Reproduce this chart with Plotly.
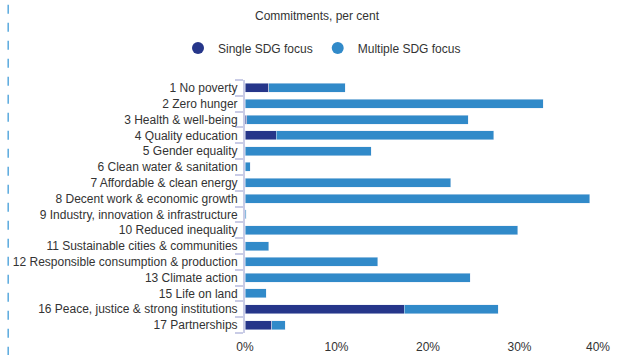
import plotly.graph_objects as go

categories = [
    "1 No poverty", "2 Zero hunger", "3 Health & well-being", "4 Quality education",
    "5 Gender equality", "6 Clean water & sanitation", "7 Affordable & clean energy",
    "8 Decent work & economic growth", "9 Industry, innovation & infrastructure",
    "10 Reduced inequality", "11 Sustainable cities & communities",
    "12 Responsible consumption & production", "13 Climate action", "15 Life on land",
    "16 Peace, justice & strong institutions", "17 Partnerships",
]
single_focus = [2.6, 0, 0.2, 3.4, 0, 0, 0, 0, 0, 0, 0, 0, 0, 0, 17.4, 2.9]
total_focus = [10.95, 32.6, 24.4, 27.2, 13.8, 0.6, 22.5, 37.65, 0.15, 29.8, 2.6, 14.5, 24.6, 2.3, 27.7, 4.4]
multiple_focus = [round(t - s, 2) for t, s in zip(total_focus, single_focus)]
tick_vals = [0, 10, 20, 30, 40]
tick_text = ["0%", "10%", "20%", "30%", "40%"]

DARK = "#26368a"
LIGHT = "#318ac9"
FONT = "Liberation Sans, Arial, sans-serif"

fig = go.Figure()
fig.add_trace(go.Bar(y=categories, x=single_focus, orientation="h", marker_color=DARK,
                     name="Single SDG focus", showlegend=False))
fig.add_trace(go.Bar(y=categories, x=multiple_focus, orientation="h", marker_color=LIGHT,
                     name="Multiple SDG focus", showlegend=False))
# legend entries with circle markers
fig.add_trace(go.Scatter(x=[None], y=[None], mode="markers", name="Single SDG focus",
                         marker=dict(color=DARK, size=11, symbol="circle")))
fig.add_trace(go.Scatter(x=[None], y=[None], mode="markers", name="Multiple SDG focus",
                         marker=dict(color=LIGHT, size=11, symbol="circle")))

fig.update_layout(
    width=618, height=355,
    barmode="stack", bargap=0.43,
    margin=dict(l=245, r=7, t=80, b=22, autoexpand=False),
    paper_bgcolor="white", plot_bgcolor="white",
    font=dict(family=FONT, size=12, color="#333333"),
    title=dict(text="Commitments, per cent", x=317 / 618, xanchor="center",
               yref="container", y=1 - 16 / 355, yanchor="middle",
               font=dict(size=12, color="#333333")),
    legend=dict(orientation="h", traceorder="normal", xref="container", x=322 / 618,
                xanchor="center", yref="container", y=1 - 48 / 355, yanchor="middle",
                font=dict(size=12, color="#333333"), itemsizing="constant", itemwidth=30),
    xaxis=dict(range=[0, 40], tickvals=tick_vals[:-1], ticktext=tick_text[:-1],
               showgrid=False, zeroline=False, showline=False, automargin=False,
               ticks="outside", ticklen=3, tickcolor="rgba(0,0,0,0)",
               tickfont=dict(size=12, color="#333333")),
    yaxis=dict(categoryorder="array", categoryarray=categories[::-1],
               autorange=False, range=[-0.5, len(categories) - 0.5], automargin=False,
               showline=True, linecolor="#c9cce6", linewidth=2,
               ticks="outside", tickson="boundaries", ticklen=8, tickcolor="#c9cce6",
               tickwidth=2, showgrid=False, ticklabelstandoff=3,
               tickfont=dict(size=12, color="#333333")),
    shapes=[dict(type="line", xref="paper", yref="paper", x0=-0.647, x1=-0.647,
                 y0=-0.09, y1=1.32, line=dict(color="#5aaade", width=1.5, dash="dash"))],
    annotations=[dict(text=tick_text[-1], xref="paper", yref="paper", x=(598 - 245) / 366,
                      y=-0.055, xanchor="center", yanchor="middle", showarrow=False,
                      font=dict(size=12, color="#333333"))],
)

fig.write_html("out.html", config={"displayModeBar": False},
               post_script="document.body.style.margin='0';document.body.style.overflow='hidden';")
